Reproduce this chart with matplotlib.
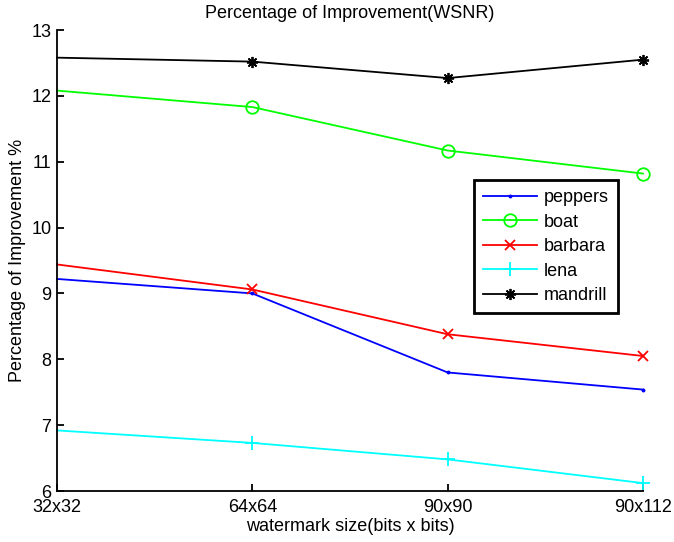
import matplotlib
matplotlib.use("Agg")
import matplotlib.pyplot as plt

plt.rcParams['font.family'] = ['Liberation Sans', 'DejaVu Sans']

sizes = ["32x32", "64x64", "90x90", "90x112"]
peppers = [9.22, 9.00, 7.80, 7.54]
boat = [12.08, 11.83, 11.17, 10.82]
barbara = [9.44, 9.06, 8.38, 8.05]
lena = [6.92, 6.73, 6.48, 6.12]
mandrill = [12.58, 12.52, 12.27, 12.55]

xs = [1, 2, 3, 4]

fig = plt.figure(figsize=(6.74, 5.42), dpi=100)
ax = fig.add_axes([57 / 674, 51 / 542, 586 / 674, 461 / 542])

# MATLAB style markers, '*' drawn as an 8-armed asterisk
series = [
    ("peppers", peppers, (0, 0, 1), ".", 3),
    ("boat", boat, (0, 1, 0), "o", 9),
    ("barbara", barbara, (1, 0, 0), "x", 7),
    ("lena", lena, (0, 1, 1), "+", 10),
    ("mandrill", mandrill, (0, 0, 0), (8, 2, 0), 8),
]
for name, vals, col, mk, ms in series:
    ax.plot(xs, vals, color=col, marker=mk, markersize=ms, markevery=[1, 2, 3],
            markerfacecolor="none" if mk == "o" else col, markeredgewidth=1.3,
            linewidth=1.3, label=name, clip_on=False)

ax.set_xlim(1, 4)
ax.set_ylim(6, 13)
ax.set_xticks(xs)
ax.set_xticklabels(sizes)
ax.set_yticks(range(6, 14))
ax.spines['top'].set_visible(False)
ax.spines['right'].set_visible(False)
ax.spines['left'].set_linewidth(1.3)
ax.spines['bottom'].set_linewidth(1.3)
ax.tick_params(direction='in', length=5, width=1.3, labelsize=13)
ax.tick_params(axis='x', pad=6)
ax.tick_params(axis='y', pad=4)

ax.set_title("Percentage of Improvement(WSNR)", fontsize=13, pad=9)
ax.set_xlabel("watermark size(bits x bits)", fontsize=13, labelpad=1)
ax.set_ylabel("Percentage of Improvement %", fontsize=13, labelpad=4)

leg = ax.legend(loc='upper left', bbox_to_anchor=(474 / 674, 1 - 180 / 542),
                bbox_transform=fig.transFigure, fontsize=13, fancybox=False,
                framealpha=1, edgecolor='black', handlelength=3.0,
                borderpad=0.5, labelspacing=0.42, handletextpad=0.35,
                borderaxespad=0)
leg.get_frame().set_linewidth(2)

fig.savefig("out.png", dpi=100)
